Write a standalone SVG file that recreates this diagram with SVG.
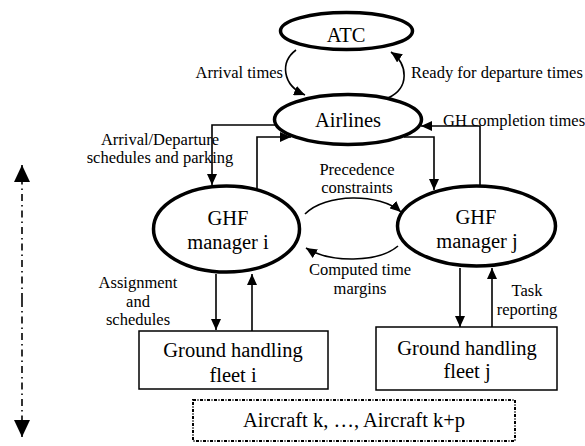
<svg xmlns="http://www.w3.org/2000/svg" width="585" height="446" viewBox="0 0 585 446">
<defs>
<marker id="ah" markerUnits="userSpaceOnUse" markerWidth="12" markerHeight="10" refX="11" refY="5" orient="auto">
<path d="M0,0 L11,5 L0,10 z" fill="#000"/>
</marker>
<marker id="big" markerUnits="userSpaceOnUse" markerWidth="18" markerHeight="16" refX="17" refY="8" orient="auto">
<path d="M0,0 L17,8 L0,16 z" fill="#000"/>
</marker>
<style>
.node{fill:#fff;stroke:#000;stroke-width:3.5}
.box{fill:#fff;stroke:#000;stroke-width:1.5}
.con{fill:none;stroke:#000;stroke-width:1.6}
.nt{font-size:20.5px;fill:#000;text-anchor:middle}
.lb{font-size:16.5px;fill:#000;text-anchor:middle}
</style>
</defs>
<rect width="585" height="446" fill="#fff"/>
<g id="connectors">
<path class="con" d="M296,50 C280,62 282,85 305,95" marker-end="url(#ah)"/>
<path class="con" d="M388,98 C410,88 408,64 391,52" marker-end="url(#ah)"/>
<path class="con" d="M277,125 H212 V185" marker-end="url(#ah)"/>
<path class="con" d="M257,189 V137 H291" marker-end="url(#ah)"/>
<path class="con" d="M404,137 H434 V190" marker-end="url(#ah)"/>
<path class="con" d="M480,186 V126 H421" marker-end="url(#ah)"/>
<path class="con" d="M305,214 C325,193 380,193 401,212" marker-end="url(#ah)"/>
<path class="con" d="M398,246 C378,263 330,263 306,248" marker-end="url(#ah)"/>
<path class="con" d="M216,274 V330" marker-end="url(#ah)"/>
<path class="con" d="M252,331 V274" marker-end="url(#ah)"/>
<path class="con" d="M460,268 V327" marker-end="url(#ah)"/>
<path class="con" d="M492,327 V268" marker-end="url(#ah)"/>
<path class="con" d="M22,300 V165" stroke-dasharray="7 4 1.5 4" marker-end="url(#big)"/>
<path class="con" d="M22,300 V437" stroke-dasharray="7 4 1.5 4" marker-end="url(#big)"/>
</g>
<g id="labels" font-family="'Liberation Serif', 'Times New Roman', 'DejaVu Serif', serif">
<text class="lb" x="283" y="78" text-anchor="end" style="text-anchor:end">Arrival times</text>
<text class="lb" x="411" y="78" style="text-anchor:start">Ready for departure times</text>
<text class="lb" x="443" y="126" style="text-anchor:start">GH completion times</text>
<text class="lb" x="160" y="145">Arrival/Departure</text>
<text class="lb" x="160" y="163">schedules and parking</text>
<text class="lb" x="357" y="175">Precedence</text>
<text class="lb" x="357" y="193">constraints</text>
<text class="lb" x="360" y="275">Computed time</text>
<text class="lb" x="360" y="294">margins</text>
<text class="lb" x="138" y="288">Assignment</text>
<text class="lb" x="138" y="307">and</text>
<text class="lb" x="138" y="325">schedules</text>
<text class="lb" x="527" y="296">Task</text>
<text class="lb" x="527" y="315">reporting</text>
</g>
<g id="atc" font-family="'Liberation Serif', 'Times New Roman', 'DejaVu Serif', serif">
<ellipse class="node" cx="346.5" cy="31" rx="66" ry="18.5"/>
<text class="nt" x="346" y="42">ATC</text>
</g>
<g id="airlines" font-family="'Liberation Serif', 'Times New Roman', 'DejaVu Serif', serif">
<ellipse class="node" cx="348" cy="119.5" rx="73.5" ry="25"/>
<text class="nt" x="348" y="127">Airlines</text>
</g>
<g id="ghf-i" font-family="'Liberation Serif', 'Times New Roman', 'DejaVu Serif', serif">
<ellipse class="node" cx="226.5" cy="229" rx="73" ry="43"/>
<text class="nt" x="228" y="225">GHF</text>
<text class="nt" x="228" y="249">manager i</text>
</g>
<g id="ghf-j" font-family="'Liberation Serif', 'Times New Roman', 'DejaVu Serif', serif">
<ellipse class="node" cx="476.5" cy="226" rx="79" ry="40"/>
<text class="nt" x="476" y="224">GHF</text>
<text class="nt" x="477" y="248">manager j</text>
</g>
<g id="fleet-i" font-family="'Liberation Serif', 'Times New Roman', 'DejaVu Serif', serif">
<rect class="box" x="139" y="331" width="189" height="58"/>
<text class="nt" x="233" y="357">Ground handling</text>
<text class="nt" x="233" y="382">fleet i</text>
</g>
<g id="fleet-j" font-family="'Liberation Serif', 'Times New Roman', 'DejaVu Serif', serif">
<rect class="box" x="376" y="327" width="181" height="63"/>
<text class="nt" x="467" y="355">Ground handling</text>
<text class="nt" x="467" y="378">fleet j</text>
</g>
<g id="aircraft" font-family="'Liberation Serif', 'Times New Roman', 'DejaVu Serif', serif">
<rect x="193" y="400" width="322" height="41" fill="#fff" stroke="#000" stroke-width="2" stroke-dasharray="3 1.5 1 1.5"/>
<text class="nt" x="354" y="427">Aircraft k, …, Aircraft k+p</text>
</g>
</svg>
